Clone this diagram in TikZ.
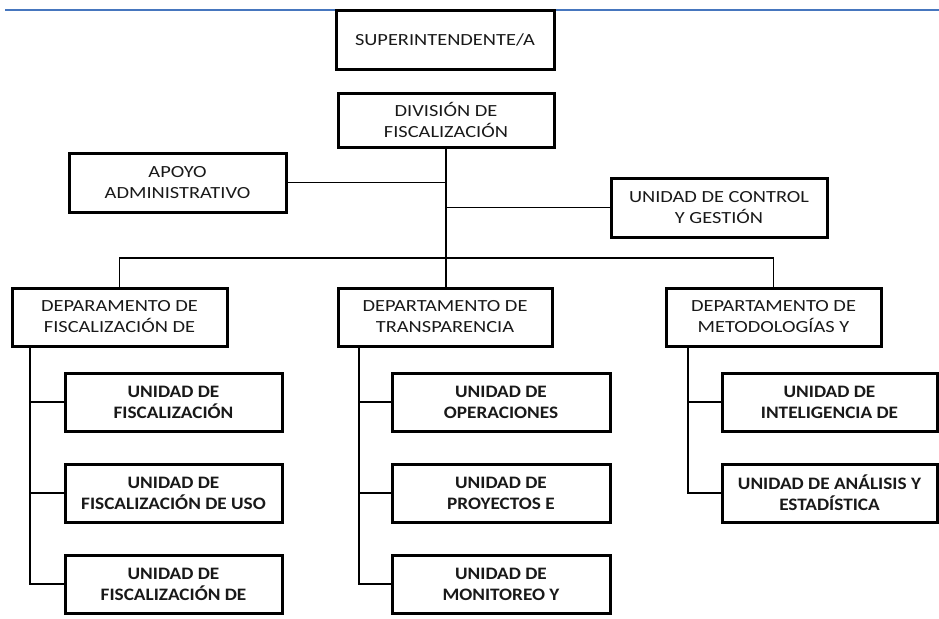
\documentclass[tikz,border=0pt]{standalone}
\usepackage{fontspec}
\setmainfont{Carlito}
\newfontfamily\regfont[FakeStretch=1.2]{Carlito}
\newfontfamily\boldfont[FakeStretch=1.1]{Carlito Bold}
\definecolor{topblue}{RGB}{70,118,190}
\definecolor{ink}{RGB}{25,25,25}
\tikzset{
  box/.style={draw=black, line width=3pt, rectangle, inner sep=0pt, align=center, text=ink},
  topbox/.style={box, font=\regfont\fontsize{17}{21}\selectfont},
  subbox/.style={box, minimum height=58pt, font=\boldfont\fontsize{17.5}{21}\selectfont, text=ink},
  link/.style={draw=black, line width=1.8pt},
}
\begin{document}
\begin{tikzpicture}[x=1pt,y=-1pt]
\useasboundingbox (0,0) rectangle (939,618);
\draw[topblue, line width=1.8pt] (5,10) -- (939,10);

\node[topbox, minimum width=218pt, minimum height=58pt] (sup) at (445,40) {SUPERINTENDENTE/A};
\node[topbox, minimum width=216pt, minimum height=54pt] (div) at (446,120) {DIVISIÓN DE\\FISCALIZACIÓN};
\node[topbox, minimum width=217pt, minimum height=59pt] (apoyo) at (177.5,182.5) {APOYO\\ADMINISTRATIVO};
\node[topbox, minimum width=216pt, minimum height=59pt] (ctrl) at (719,207.5) {UNIDAD DE CONTROL\\Y GESTIÓN};

\node[topbox, minimum width=215pt, minimum height=58pt] (d1) at (119.5,317) {DEPARAMENTO DE\\FISCALIZACIÓN DE};
\node[topbox, minimum width=214pt, minimum height=58pt] (d2) at (445,317) {DEPARTAMENTO DE\\TRANSPARENCIA};
\node[topbox, minimum width=215pt, minimum height=58pt] (d3) at (773.5,317) {DEPARTAMENTO DE\\METODOLOGÍAS Y};

\node[subbox, minimum width=217pt] (s11) at (173.5,402) {UNIDAD DE\\FISCALIZACIÓN};
\node[subbox, minimum width=217pt] (s12) at (173.5,493) {UNIDAD DE\\FISCALIZACIÓN DE USO};
\node[subbox, minimum width=217pt] (s13) at (173.5,584) {UNIDAD DE\\FISCALIZACIÓN DE};

\node[subbox, minimum width=218pt] (s21) at (501,402) {UNIDAD DE\\OPERACIONES};
\node[subbox, minimum width=218pt] (s22) at (501,493) {UNIDAD DE\\PROYECTOS E};
\node[subbox, minimum width=218pt] (s23) at (501,584) {UNIDAD DE\\MONITOREO Y};

\node[subbox, minimum width=215pt] (s31) at (829.5,402) {UNIDAD DE\\INTELIGENCIA DE};
\node[subbox, minimum width=215pt] (s32) at (829.5,493) {UNIDAD DE ANÁLISIS Y\\ESTADÍSTICA};

% top connectors
\draw[link] (sup.south) -- (div.south |- sup.south);
\draw[link] (div.south) -- (d2.north -| div.south);
\draw[link] (apoyo.east) -- (apoyo.east -| div.south);
\draw[link] (ctrl.west) -- (ctrl.west -| div.south);
\coordinate (bar) at (446,258);
\draw[link] (d1.north) |- (bar) -| (d3.north);

% department to unit connectors
\coordinate (v1) at ([xshift=-89.5pt]d1.south);
\draw[link] (v1) |- (s13.west);
\draw[link] (v1 |- s11.west) -- (s11.west);
\draw[link] (v1 |- s12.west) -- (s12.west);

\coordinate (v2) at ([xshift=-86pt]d2.south);
\draw[link] (v2) |- (s23.west);
\draw[link] (v2 |- s21.west) -- (s21.west);
\draw[link] (v2 |- s22.west) -- (s22.west);

\coordinate (v3) at ([xshift=-85.5pt]d3.south);
\draw[link] (v3) |- (s32.west);
\draw[link] (v3 |- s31.west) -- (s31.west);
\end{tikzpicture}
\end{document}
